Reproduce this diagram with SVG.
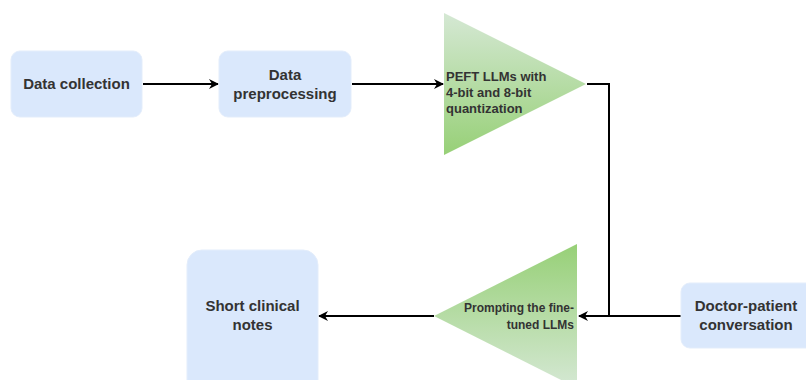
<svg xmlns="http://www.w3.org/2000/svg" width="806" height="380" viewBox="0 0 806 380">
  <defs>
    <linearGradient id="gDown" x1="0" y1="0" x2="0" y2="1">
      <stop offset="0" stop-color="#d5e8d4"/>
      <stop offset="1" stop-color="#97d077"/>
    </linearGradient>
    <linearGradient id="gUp" x1="0" y1="0" x2="0" y2="1">
      <stop offset="0" stop-color="#97d077"/>
      <stop offset="1" stop-color="#d5e8d4"/>
    </linearGradient>
    <marker id="arrow" viewBox="0 0 10 10" refX="9" refY="5" markerWidth="10" markerHeight="10" markerUnits="userSpaceOnUse" orient="auto">
      <path d="M0,0 L10,5 L0,10 L3,5 Z" fill="#000"/>
    </marker>
    <style>
      .box { fill: #dae8fc; stroke: #e3edfb; stroke-width: 1; }
      .lbl { font-family: "Liberation Sans", Arial, sans-serif; font-weight: bold; fill: #333333; }
      .edge { fill: none; stroke: #000; stroke-width: 2; }
    </style>
  </defs>

  <!-- connectors -->
  <g id="edges">
    <path class="edge" d="M143,84 L218,84" marker-end="url(#arrow)"/>
    <path class="edge" d="M352,84 L443,84" marker-end="url(#arrow)"/>
    <path class="edge" d="M587,84 L609,84 L609,316 L579,316" marker-end="url(#arrow)"/>
    <path class="edge" d="M681,316 L579,316"/>
    <path class="edge" d="M434,316 L319,316" marker-end="url(#arrow)"/>
  </g>

  <g id="data-collection">
    <rect class="box" x="11" y="51" width="131" height="66" rx="9"/>
    <text class="lbl" x="76.5" y="89" font-size="15" text-anchor="middle">Data collection</text>
  </g>

  <g id="data-preprocessing">
    <rect class="box" x="219" y="51" width="132" height="66" rx="9"/>
    <text class="lbl" x="285" y="80" font-size="15" text-anchor="middle">Data</text>
    <text class="lbl" x="285" y="99" font-size="15" text-anchor="middle">preprocessing</text>
  </g>

  <g id="peft-llms">
    <polygon points="444,13 586,84 444,155" fill="url(#gDown)"/>
    <text class="lbl" x="446" y="81" font-size="13">PEFT LLMs with</text>
    <text class="lbl" x="446" y="97" font-size="13">4-bit and 8-bit</text>
    <text class="lbl" x="446" y="113" font-size="13">quantization</text>
  </g>

  <g id="prompting">
    <polygon points="577,244 434,316 577,388" fill="url(#gUp)"/>
    <text class="lbl" x="574" y="312" font-size="12" text-anchor="end">Prompting the fine-</text>
    <text class="lbl" x="574" y="329" font-size="12" text-anchor="end">tuned LLMs</text>
  </g>

  <g id="doctor-patient">
    <rect class="box" x="681" y="283" width="140" height="65" rx="9"/>
    <text class="lbl" x="746" y="311" font-size="15" text-anchor="middle">Doctor-patient</text>
    <text class="lbl" x="746" y="330" font-size="15" text-anchor="middle">conversation</text>
  </g>

  <g id="short-notes">
    <rect class="box" x="187" y="250" width="131" height="145" rx="15"/>
    <text class="lbl" x="252.5" y="311" font-size="15" text-anchor="middle">Short clinical</text>
    <text class="lbl" x="252.5" y="330" font-size="15" text-anchor="middle">notes</text>
  </g>
</svg>
